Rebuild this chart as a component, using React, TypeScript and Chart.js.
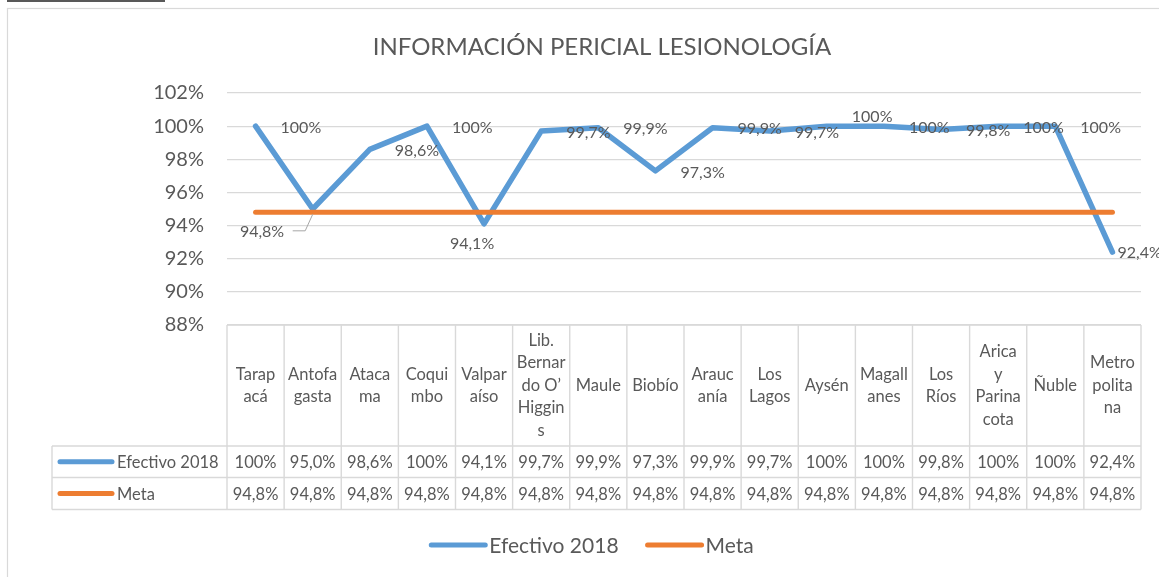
import React, { useEffect, useRef } from "react";
import { Chart, registerables } from "chart.js";

Chart.register(...registerables);

const TITLE = "INFORMACIÓN PERICIAL LESIONOLOGÍA";

const categories = [
  "Tarapacá",
  "Antofagasta",
  "Atacama",
  "Coquimbo",
  "Valparaíso",
  "Lib. Bernardo O’Higgins",
  "Maule",
  "Biobío",
  "Araucanía",
  "Los Lagos",
  "Aysén",
  "Magallanes",
  "Los Ríos",
  "Arica y Parinacota",
  "Ñuble",
  "Metropolitana",
];

// category labels as wrapped in the data-table header
const categoryLines = [
  ["Tarap", "acá"],
  ["Antofa", "gasta"],
  ["Ataca", "ma"],
  ["Coqui", "mbo"],
  ["Valpar", "aíso"],
  ["Lib.", "Bernar", "do O’", "Higgin", "s"],
  ["Maule"],
  ["Biobío"],
  ["Arauc", "anía"],
  ["Los", "Lagos"],
  ["Aysén"],
  ["Magall", "anes"],
  ["Los", "Ríos"],
  ["Arica", "y", "Parina", "cota"],
  ["Ñuble"],
  ["Metro", "polita", "na"],
];

const efectivo2018 = [100, 95.0, 98.6, 100, 94.1, 99.7, 99.9, 97.3, 99.9, 99.7, 100, 100, 99.8, 100, 100, 92.4];
const meta = [94.8, 94.8, 94.8, 94.8, 94.8, 94.8, 94.8, 94.8, 94.8, 94.8, 94.8, 94.8, 94.8, 94.8, 94.8, 94.8];

const seriesNames = ["Efectivo 2018", "Meta"];
const Y_MIN = 88;
const Y_MAX = 102;
const Y_STEP = 2;

const BLUE = "#5B9BD5";
const ORANGE = "#ED7D31";
const TEXT = "#595959";
const GRID = "#D9D9D9";
const FONT = "Lato, 'Open Sans', sans-serif";

const fmt = (v: number) => (v === 100 ? "100%" : v.toFixed(1).replace(".", ",") + "%");

const decorPlugin = {
  id: "decor",
  afterDraw(chart: any) {
    const ctx: CanvasRenderingContext2D = chart.ctx;
    const xs = chart.scales.x;
    const area = chart.chartArea;
    ctx.save();

    // thin dark rule at top-left
    ctx.fillStyle = TEXT;
    ctx.fillRect(7, 0, 158, 2);

    // chart border
    ctx.strokeStyle = GRID;
    ctx.lineWidth = 1.2;
    ctx.strokeRect(7.5, 8.5, 1400, 800);

    // title
    ctx.fillStyle = TEXT;
    ctx.font = `24px ${FONT}`;
    ctx.textAlign = "center";
    ctx.textBaseline = "middle";
    ctx.fillText(TITLE, 602, 47);

    // ---------- data table ----------
    const tTop = area.bottom;
    const hBottom = tTop + 121;
    const r1Bottom = hBottom + 31.5;
    const r2Bottom = r1Bottom + 32;
    const legLeft = 52;
    const n = categories.length;
    const colEdge = (i: number) => xs.getPixelForValue(i - 0.5);

    ctx.strokeStyle = GRID;
    ctx.lineWidth = 1.4;
    ctx.beginPath();
    ctx.moveTo(area.left, tTop);
    ctx.lineTo(area.right, tTop);
    [hBottom, r1Bottom, r2Bottom].forEach((y) => {
      ctx.moveTo(legLeft, y);
      ctx.lineTo(area.right, y);
    });
    for (let i = 0; i <= n; i++) {
      const x = colEdge(i);
      ctx.moveTo(x, tTop);
      ctx.lineTo(x, r2Bottom);
    }
    ctx.moveTo(legLeft, hBottom);
    ctx.lineTo(legLeft, r2Bottom);
    ctx.stroke();

    ctx.fillStyle = TEXT;
    ctx.font = `16.5px ${FONT}`;
    ctx.textAlign = "center";
    ctx.textBaseline = "middle";
    const lh = 22.6;
    const hMid = (tTop + hBottom) / 2;
    categoryLines.forEach((lines, i) => {
      const cx = xs.getPixelForValue(i);
      const start = hMid - ((lines.length - 1) * lh) / 2;
      lines.forEach((ln, k) => ctx.fillText(ln, cx, start + k * lh));
    });
    const rows = [efectivo2018, meta];
    const rowMid = [(hBottom + r1Bottom) / 2, (r1Bottom + r2Bottom) / 2];
    const colors = [BLUE, ORANGE];
    rows.forEach((vals, r) => {
      vals.forEach((v, i) => ctx.fillText(fmt(v), xs.getPixelForValue(i), rowMid[r] + 1));
      // legend key in the table
      ctx.strokeStyle = colors[r];
      ctx.lineWidth = 5;
      ctx.lineCap = "round";
      ctx.beginPath();
      ctx.moveTo(60, rowMid[r]);
      ctx.lineTo(112, rowMid[r]);
      ctx.stroke();
      ctx.textAlign = "left";
      ctx.fillText(seriesNames[r], 117, rowMid[r] + 1);
      ctx.textAlign = "center";
    });

    // ---------- bottom legend ----------
    ctx.font = `21px ${FONT}`;
    const keyW = 56;
    const gap = 4;
    const itemGap = 27;
    const widths = seriesNames.map((s) => ctx.measureText(s).width);
    const total = widths.reduce((a, w) => a + keyW + gap + w, 0) + itemGap;
    let lx = 591.5 - total / 2;
    const ly = 545;
    seriesNames.forEach((s, r) => {
      ctx.strokeStyle = colors[r];
      ctx.lineWidth = 5;
      ctx.lineCap = "round";
      ctx.beginPath();
      ctx.moveTo(lx + 2, ly);
      ctx.lineTo(lx + keyW, ly);
      ctx.stroke();
      ctx.fillStyle = TEXT;
      ctx.textAlign = "left";
      ctx.fillText(s, lx + keyW + gap, ly + 1);
      lx += keyW + gap + widths[r] + itemGap;
    });

    // ---------- data labels ----------
    ctx.font = `16px ${FONT}`;
    ctx.fillStyle = TEXT;
    ctx.textBaseline = "middle";
    const pts = chart.getDatasetMeta(0).data;
    pts.forEach((p: any, i: number) => {
      if (i === 1) return; // label shown via Meta point instead
      const txt = fmt(efectivo2018[i]);
      if (i === 4) {
        ctx.textAlign = "center";
        ctx.fillText(txt, p.x - 12, p.y + 20);
      } else if (i === 10) {
        ctx.textAlign = "left";
        ctx.fillText(txt, p.x + 25, p.y - 9.5);
      } else if (i === 15) {
        ctx.textAlign = "left";
        ctx.fillText(txt, p.x + 5, p.y + 1);
      } else {
        ctx.textAlign = "left";
        ctx.fillText(txt, p.x + 25, p.y + 1.5);
      }
    });
    // Meta label at Antofagasta with leader line
    const mp = chart.getDatasetMeta(1).data[1];
    ctx.strokeStyle = "#A6A6A6";
    ctx.lineWidth = 1;
    ctx.lineCap = "butt";
    ctx.beginPath();
    ctx.moveTo(mp.x, mp.y + 2);
    ctx.lineTo(mp.x - 7.5, mp.y + 18.5);
    ctx.lineTo(mp.x - 20, mp.y + 18.5);
    ctx.stroke();
    ctx.textAlign = "right";
    ctx.fillText(fmt(meta[1]), mp.x - 28.5, mp.y + 20);

    ctx.restore();
  },
};

export default function App() {
  const ref = useRef<HTMLCanvasElement | null>(null);
  useEffect(() => {
    if (!ref.current) return;
    const chart = new Chart(ref.current, {
      type: "line",
      data: {
        labels: categories,
        datasets: [
          {
            label: seriesNames[0],
            data: efectivo2018,
            borderColor: BLUE,
            backgroundColor: BLUE,
            borderWidth: 5.5,
            borderCapStyle: "round",
            borderJoinStyle: "round",
            pointRadius: 0,
            tension: 0,
            order: 1,
          },
          {
            label: seriesNames[1],
            data: meta,
            borderColor: ORANGE,
            backgroundColor: ORANGE,
            borderWidth: 5,
            borderCapStyle: "round",
            borderJoinStyle: "round",
            pointRadius: 0,
            tension: 0,
            order: 0,
          },
        ],
      },
      options: {
        responsive: false,
        animation: false,
        events: [],
        layout: { padding: { left: 0, top: 93, right: 18, bottom: 252 } },
        plugins: {
          legend: { display: false },
          title: { display: false },
          tooltip: { enabled: false },
        },
        scales: {
          x: { type: "category", offset: true, display: false },
          y: {
            min: Y_MIN,
            max: Y_MAX,
            afterFit: (s: any) => {
              s.width = 227;
            },
            border: { display: false },
            grid: { color: GRID, lineWidth: 1.2, drawTicks: false },
            ticks: {
              stepSize: Y_STEP,
              padding: 23,
              color: TEXT,
              font: { family: FONT, size: 20 },
              callback: (v: any) => `${v}%`,
            },
          },
        },
      },
      plugins: [decorPlugin],
    });
    return () => chart.destroy();
  }, []);
  return (
    <div style={{ position: "fixed", left: 0, top: 0, width: 1159, height: 577, background: "#fff" }}>
      <canvas ref={ref} width={1159} height={577} style={{ display: "block" }} />
    </div>
  );
}
